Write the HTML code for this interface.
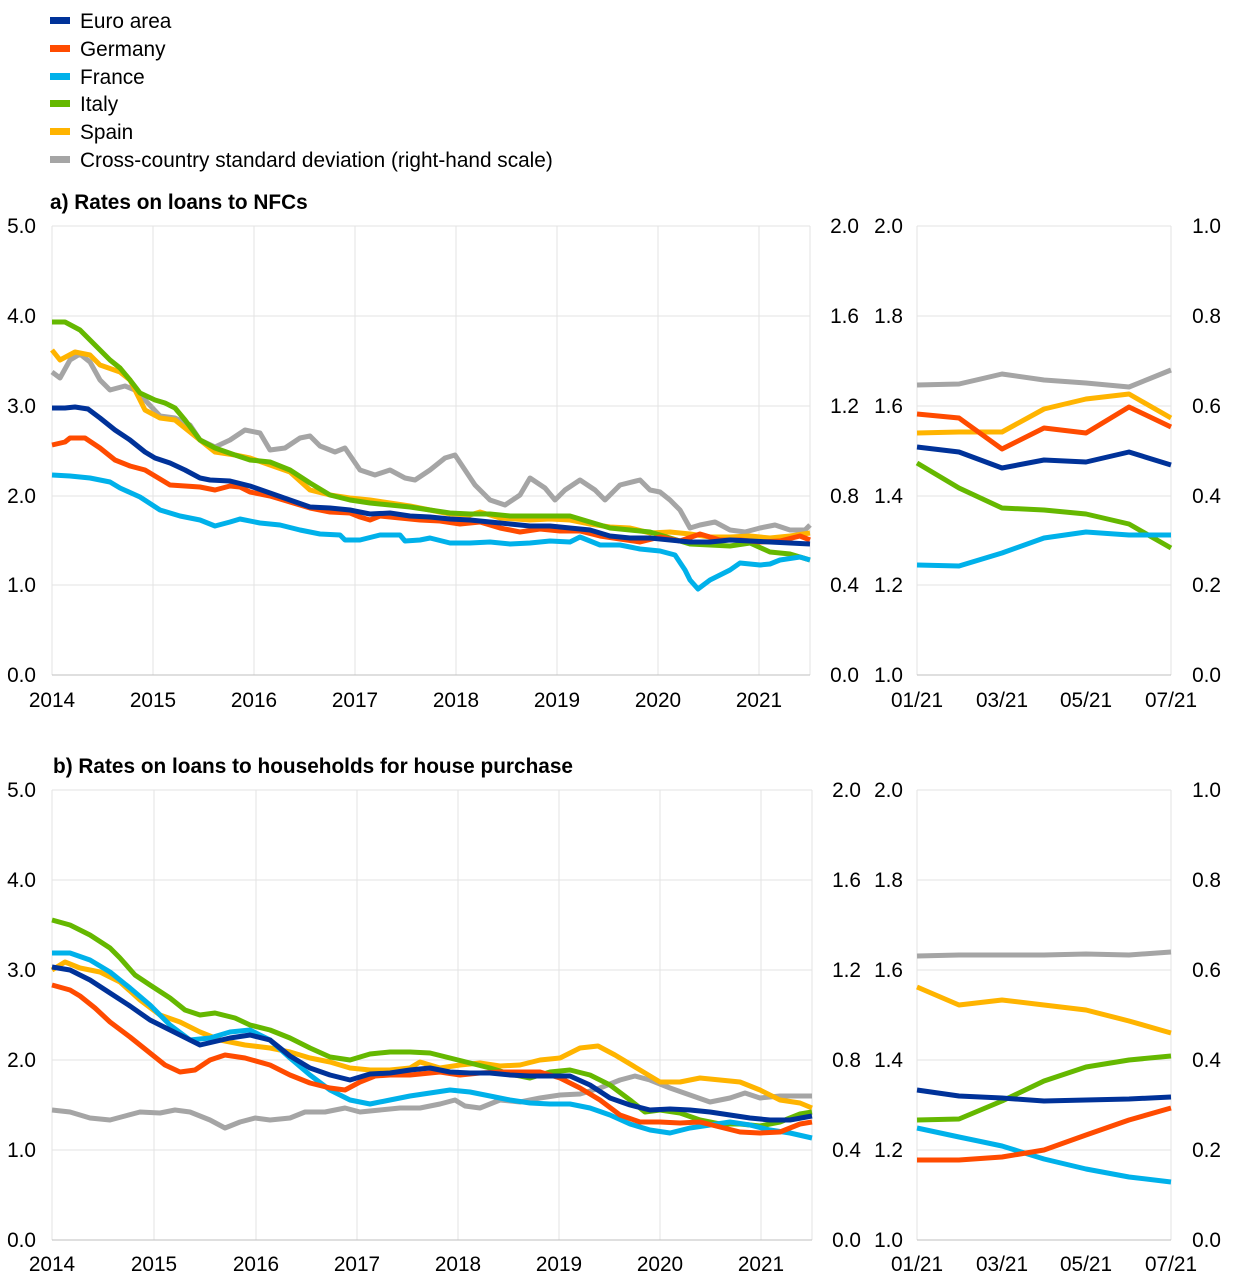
<!DOCTYPE html>
<html><head><meta charset="utf-8"><style>
html,body{margin:0;padding:0;background:#fff;}
svg{display:block;font-family:"Liberation Sans",Arial,sans-serif;}
</style></head><body>
<svg width="1240" height="1282" viewBox="0 0 1240 1282" xmlns="http://www.w3.org/2000/svg">
<g font-size="20.8" fill="#000">
<rect x="50" y="17" width="20" height="7" fill="#003299"/><text x="80" y="28">Euro area</text>
<rect x="50" y="45" width="20" height="7" fill="#ff4b00"/><text x="80" y="56">Germany</text>
<rect x="50" y="73" width="20" height="7" fill="#00b1ea"/><text x="80" y="84">France</text>
<rect x="50" y="100" width="20" height="7" fill="#65b800"/><text x="80" y="111">Italy</text>
<rect x="50" y="128" width="20" height="7" fill="#ffb400"/><text x="80" y="139">Spain</text>
<rect x="50" y="156" width="20" height="7" fill="#a5a5a5"/><text x="80" y="167">Cross-country standard deviation (right-hand scale)</text>
<text x="50" y="209" font-weight="bold">a) Rates on loans to NFCs</text>
<text x="53" y="773" font-weight="bold">b) Rates on loans to households for house purchase</text>
</g>

<g stroke="#e3e3e3" stroke-width="1">
<line x1="52" x2="810" y1="226" y2="226"/><line x1="52" x2="810" y1="316" y2="316"/><line x1="52" x2="810" y1="406" y2="406"/><line x1="52" x2="810" y1="496" y2="496"/><line x1="52" x2="810" y1="585" y2="585"/>
<line x1="153" x2="153" y1="226" y2="675"/><line x1="254" x2="254" y1="226" y2="675"/><line x1="355" x2="355" y1="226" y2="675"/><line x1="456" x2="456" y1="226" y2="675"/><line x1="557" x2="557" y1="226" y2="675"/><line x1="658" x2="658" y1="226" y2="675"/><line x1="759" x2="759" y1="226" y2="675"/>
<line x1="52" x2="52" y1="226" y2="675"/><line x1="810" x2="810" y1="226" y2="675"/>
<line x1="917" x2="1171" y1="226" y2="226"/><line x1="917" x2="1171" y1="316" y2="316"/><line x1="917" x2="1171" y1="406" y2="406"/><line x1="917" x2="1171" y1="496" y2="496"/><line x1="917" x2="1171" y1="585" y2="585"/>
<line x1="917" x2="917" y1="226" y2="675"/><line x1="1171" x2="1171" y1="226" y2="675"/>
</g>
<g stroke="#bfbfbf" stroke-width="1"><line x1="52" x2="810" y1="675" y2="675"/><line x1="917" x2="1171" y1="675" y2="675"/></g>

<g stroke="#e3e3e3" stroke-width="1">
<line x1="52" x2="812" y1="790" y2="790"/><line x1="52" x2="812" y1="880" y2="880"/><line x1="52" x2="812" y1="970" y2="970"/><line x1="52" x2="812" y1="1060" y2="1060"/><line x1="52" x2="812" y1="1150" y2="1150"/>
<line x1="154" x2="154" y1="790" y2="1240"/><line x1="256" x2="256" y1="790" y2="1240"/><line x1="357" x2="357" y1="790" y2="1240"/><line x1="458" x2="458" y1="790" y2="1240"/><line x1="559" x2="559" y1="790" y2="1240"/><line x1="660" x2="660" y1="790" y2="1240"/><line x1="761" x2="761" y1="790" y2="1240"/>
<line x1="52" x2="52" y1="790" y2="1240"/><line x1="812" x2="812" y1="790" y2="1240"/>
<line x1="917" x2="1171" y1="790" y2="790"/><line x1="917" x2="1171" y1="880" y2="880"/><line x1="917" x2="1171" y1="970" y2="970"/><line x1="917" x2="1171" y1="1060" y2="1060"/><line x1="917" x2="1171" y1="1150" y2="1150"/>
<line x1="917" x2="917" y1="790" y2="1240"/><line x1="1171" x2="1171" y1="790" y2="1240"/>
</g>
<g stroke="#bfbfbf" stroke-width="1"><line x1="52" x2="812" y1="1240" y2="1240"/><line x1="917" x2="1171" y1="1240" y2="1240"/></g>

<g font-size="20.8" fill="#000">
<g text-anchor="end">
<text x="36" y="233">5.0</text><text x="36" y="323">4.0</text><text x="36" y="413">3.0</text><text x="36" y="503">2.0</text><text x="36" y="592">1.0</text><text x="36" y="682">0.0</text>
<text x="859" y="233">2.0</text><text x="859" y="323">1.6</text><text x="859" y="413">1.2</text><text x="859" y="503">0.8</text><text x="859" y="592">0.4</text><text x="859" y="682">0.0</text>
<text x="903" y="233">2.0</text><text x="903" y="323">1.8</text><text x="903" y="413">1.6</text><text x="903" y="503">1.4</text><text x="903" y="592">1.2</text><text x="903" y="682">1.0</text>
<text x="1221" y="233">1.0</text><text x="1221" y="323">0.8</text><text x="1221" y="413">0.6</text><text x="1221" y="503">0.4</text><text x="1221" y="592">0.2</text><text x="1221" y="682">0.0</text>
</g>
<g text-anchor="middle">
<text x="52" y="707">2014</text><text x="153" y="707">2015</text><text x="254" y="707">2016</text><text x="355" y="707">2017</text><text x="456" y="707">2018</text><text x="557" y="707">2019</text><text x="658" y="707">2020</text><text x="759" y="707">2021</text>
<text x="917" y="707">01/21</text><text x="1002" y="707">03/21</text><text x="1086" y="707">05/21</text><text x="1171" y="707">07/21</text>
</g>
<g text-anchor="end">
<text x="36" y="797">5.0</text><text x="36" y="887">4.0</text><text x="36" y="977">3.0</text><text x="36" y="1067">2.0</text><text x="36" y="1157">1.0</text><text x="36" y="1247">0.0</text>
<text x="861" y="797">2.0</text><text x="861" y="887">1.6</text><text x="861" y="977">1.2</text><text x="861" y="1067">0.8</text><text x="861" y="1157">0.4</text><text x="861" y="1247">0.0</text>
<text x="903" y="797">2.0</text><text x="903" y="887">1.8</text><text x="903" y="977">1.6</text><text x="903" y="1067">1.4</text><text x="903" y="1157">1.2</text><text x="903" y="1247">1.0</text>
<text x="1221" y="797">1.0</text><text x="1221" y="887">0.8</text><text x="1221" y="977">0.6</text><text x="1221" y="1067">0.4</text><text x="1221" y="1157">0.2</text><text x="1221" y="1247">0.0</text>
</g>
<g text-anchor="middle">
<text x="52" y="1271">2014</text><text x="154" y="1271">2015</text><text x="256" y="1271">2016</text><text x="357" y="1271">2017</text><text x="458" y="1271">2018</text><text x="559" y="1271">2019</text><text x="660" y="1271">2020</text><text x="761" y="1271">2021</text>
<text x="917" y="1271">01/21</text><text x="1002" y="1271">03/21</text><text x="1086" y="1271">05/21</text><text x="1171" y="1271">07/21</text>
</g>
</g>

<g fill="none" stroke-width="5" stroke-linejoin="round" stroke-linecap="butt">
<polyline stroke="#a5a5a5" points="52,372 60,378 70,360 80,354 90,362 100,380 110,390 125,386 135,390 145,400 160,416 175,418 190,425 200,440 215,447 230,440 245,430 260,433 270,450 285,448 300,438 310,436 320,446 335,452 345,448 360,470 375,475 390,470 405,478 415,480 430,470 445,458 455,455 465,470 475,485 490,500 505,505 520,495 530,478 545,488 555,500 565,490 580,480 595,490 605,500 620,485 640,480 650,490 660,492 670,500 680,510 690,528 700,525 715,522 730,530 745,532 760,528 775,525 790,530 805,530 810,525"/>
<polyline stroke="#ffb400" points="52,350 60,360 75,352 90,355 100,365 120,372 130,380 145,410 160,418 175,420 190,432 200,440 215,452 235,455 250,458 270,465 290,472 310,490 330,495 350,498 370,500 390,503 410,506 430,510 450,514 470,515 480,512 500,518 530,520 550,519 570,520 590,524 610,527 630,528 650,533 670,532 690,534 710,537 730,537 750,536 770,538 790,536 810,533"/>
<polyline stroke="#65b800" points="52,322 65,322 80,330 90,340 110,360 120,368 130,380 140,393 155,400 165,403 175,408 185,420 200,440 215,448 235,455 250,460 270,462 290,470 310,483 330,495 350,500 370,503 390,505 410,507 430,510 450,513 470,514 490,514 510,516 530,516 550,516 570,516 590,522 610,528 630,530 650,532 670,538 690,544 710,545 730,546 750,543 770,552 790,554 810,560"/>
<polyline stroke="#00b1ea" points="52,475 70,476 90,478 110,482 120,488 140,497 160,510 180,516 200,520 215,526 230,522 240,519 260,523 280,525 300,530 320,534 340,535 345,540 360,540 380,535 400,535 405,541 420,540 430,538 450,543 470,543 490,542 510,544 530,543 550,541 570,542 580,537 600,545 620,545 640,549 660,551 675,555 685,570 690,580 698,589 710,580 730,570 740,563 760,565 770,564 780,560 800,557 810,560"/>
<polyline stroke="#ff4b00" points="52,445 65,442 70,438 85,438 100,448 115,460 130,466 145,470 155,476 170,485 185,486 200,487 215,490 230,486 240,487 250,492 270,496 290,502 310,508 330,512 350,513 360,517 370,520 380,516 400,518 420,520 440,521 460,524 480,522 500,528 520,532 540,529 560,531 580,531 600,536 620,539 640,542 660,537 680,541 700,534 720,540 740,540 760,542 780,541 800,536 810,540"/>
<polyline stroke="#003299" points="52,408 65,408 75,407 88,409 100,418 115,430 130,440 145,452 155,458 170,463 185,470 200,478 210,480 230,481 250,486 270,493 290,500 310,507 330,508 350,510 370,514 390,513 410,516 430,517 450,519 470,520 490,522 510,524 530,526 550,526 570,528 590,530 610,536 630,538 650,538 670,540 690,542 710,542 730,540 750,541 770,542 790,543 810,544"/>

<polyline stroke="#a5a5a5" points="917,385 959,384 1002,374 1044,380 1086,383 1129,387 1171,370"/>
<polyline stroke="#ffb400" points="917,433 959,432 1002,432 1044,409 1086,399 1129,394 1171,418"/>
<polyline stroke="#65b800" points="917,463 959,488 1002,508 1044,510 1086,514 1129,524 1171,548"/>
<polyline stroke="#00b1ea" points="917,565 959,566 1002,553 1044,538 1086,532 1129,535 1171,535"/>
<polyline stroke="#ff4b00" points="917,414 959,418 1002,449 1044,428 1086,433 1129,407 1171,427"/>
<polyline stroke="#003299" points="917,447 959,452 1002,468 1044,460 1086,462 1129,452 1171,465"/>

<polyline stroke="#a5a5a5" points="52,1110 70,1112 90,1118 110,1120 125,1116 140,1112 160,1113 175,1110 190,1112 210,1120 225,1128 240,1122 255,1118 270,1120 290,1118 305,1112 325,1112 345,1108 360,1112 380,1110 400,1108 420,1108 440,1104 455,1100 465,1106 480,1108 500,1100 520,1102 540,1098 560,1095 580,1094 600,1088 620,1080 635,1076 650,1080 670,1088 690,1095 710,1102 730,1098 745,1093 760,1098 780,1096 812,1096"/>
<polyline stroke="#ffb400" points="52,970 65,962 80,968 100,972 120,982 140,1000 160,1015 180,1022 200,1032 220,1040 245,1045 270,1048 290,1052 310,1058 330,1062 350,1068 370,1070 390,1070 410,1068 420,1062 440,1068 460,1065 480,1063 500,1066 520,1065 540,1060 560,1058 580,1048 598,1046 615,1055 640,1070 660,1082 680,1082 700,1078 720,1080 740,1082 760,1090 780,1100 800,1103 812,1108"/>
<polyline stroke="#65b800" points="52,920 70,925 90,935 110,948 120,958 135,975 150,985 170,998 185,1010 200,1015 215,1013 235,1018 250,1025 270,1030 290,1038 310,1048 330,1057 350,1060 370,1054 390,1052 410,1052 430,1053 450,1058 470,1063 490,1068 510,1074 530,1078 550,1072 570,1070 590,1075 610,1085 630,1100 645,1112 660,1110 680,1113 700,1120 720,1124 740,1124 760,1126 780,1122 800,1114 812,1112"/>
<polyline stroke="#00b1ea" points="52,953 70,953 90,960 110,972 130,988 150,1005 170,1025 190,1040 210,1038 230,1032 250,1030 270,1040 290,1058 310,1075 330,1090 350,1100 370,1104 390,1100 410,1096 430,1093 450,1090 470,1092 490,1096 510,1100 530,1103 550,1104 570,1104 590,1108 610,1115 630,1124 650,1130 670,1133 690,1128 710,1125 730,1122 750,1125 770,1130 790,1133 812,1138"/>
<polyline stroke="#ff4b00" points="52,985 70,990 80,996 95,1008 110,1022 130,1037 150,1053 165,1065 180,1072 195,1070 210,1060 225,1055 245,1058 270,1065 290,1075 310,1083 330,1088 345,1090 360,1082 375,1076 390,1075 410,1075 440,1072 460,1075 480,1073 500,1072 520,1072 540,1072 560,1078 580,1088 600,1100 620,1115 640,1122 660,1122 680,1123 700,1122 720,1127 740,1132 760,1133 780,1132 800,1124 812,1122"/>
<polyline stroke="#003299" points="52,967 70,970 90,980 110,993 130,1006 150,1020 170,1030 190,1040 200,1045 230,1038 250,1035 270,1040 290,1056 310,1068 330,1075 350,1080 370,1074 390,1073 410,1070 430,1068 450,1072 470,1073 490,1073 510,1075 530,1076 550,1076 570,1076 590,1085 610,1098 630,1105 650,1110 670,1109 690,1110 710,1112 730,1115 750,1118 770,1120 790,1120 812,1116"/>

<polyline stroke="#a5a5a5" points="917,956 959,955 1002,955 1044,955 1086,954 1129,955 1171,952"/>
<polyline stroke="#ffb400" points="917,987 959,1005 1002,1000 1044,1005 1086,1010 1129,1021 1171,1033"/>
<polyline stroke="#65b800" points="917,1120 959,1119 1002,1101 1044,1081 1086,1067 1129,1060 1171,1056"/>
<polyline stroke="#00b1ea" points="917,1128 959,1137 1002,1146 1044,1159 1086,1169 1129,1177 1171,1182"/>
<polyline stroke="#ff4b00" points="917,1160 959,1160 1002,1157 1044,1150 1086,1135 1129,1120 1171,1108"/>
<polyline stroke="#003299" points="917,1090 959,1096 1002,1098 1044,1101 1086,1100 1129,1099 1171,1097"/>
</g>
</svg>
</body></html>
